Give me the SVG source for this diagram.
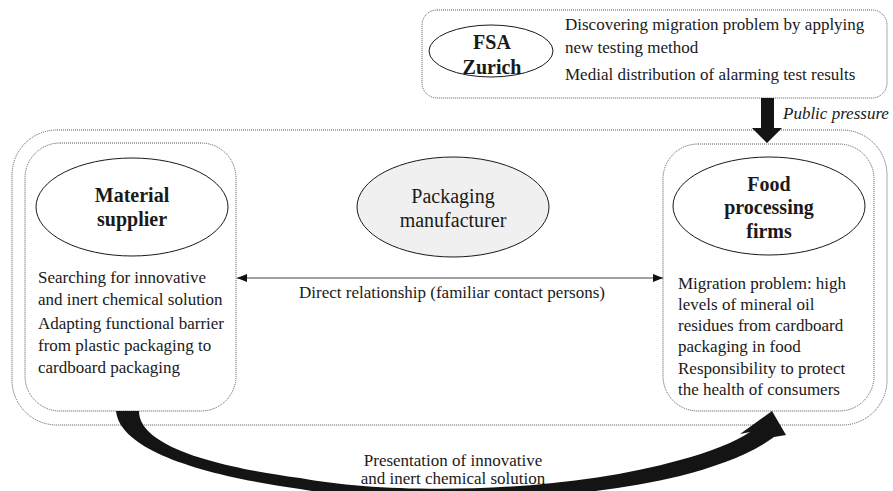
<svg xmlns="http://www.w3.org/2000/svg" width="893" height="491" viewBox="0 0 893 491">
  <defs>
    <style>
      text { font-family: "Liberation Serif", "Times New Roman", serif; fill: #1a1a1a; }
      .body { font-size: 17px; }
      .title { font-size: 20px; font-weight: bold; text-anchor: middle; }
      .plain { font-size: 20px; text-anchor: middle; }
      .mid { text-anchor: middle; }
      .frame { fill: none; stroke: #555; stroke-width: 1; stroke-dasharray: 1 1; }
      .actor { fill: #fff; stroke: #1a1a1a; stroke-width: 1; }
      .shaded { fill: #f0f0f0; }
      .link { stroke: #444; stroke-width: 1; fill: none; }
      .heavy { fill: #141414; stroke: none; }
    </style>
    <marker id="tri" viewBox="0 0 10 8" refX="10" refY="4" markerWidth="10" markerHeight="8" markerUnits="userSpaceOnUse" orient="auto-start-reverse">
      <path d="M0,0 L10,4 L0,8 Z" fill="#111"/>
    </marker>
  </defs>

  <rect width="893" height="491" fill="#fff"/>

  <!-- network boundary -->
  <rect id="network" class="frame" x="12" y="130" width="875" height="295" rx="45" ry="45"/>

  <!-- FSA Zurich -->
  <g id="fsa">
    <rect class="frame" x="422" y="10" width="465" height="88" rx="15" ry="15"/>
    <ellipse class="actor" cx="491" cy="51" rx="62" ry="26"/>
    <text class="title" x="492" y="49">FSA</text>
    <text class="title" x="492" y="74">Zurich</text>
    <text class="body" x="565" y="30">Discovering migration problem by applying</text>
    <text class="body" x="565" y="53">new testing method</text>
    <text class="body" x="565" y="80">Medial distribution of alarming test results</text>
  </g>

  <!-- Material supplier -->
  <g id="supplier">
    <rect class="frame" x="25" y="143" width="211" height="268" rx="35" ry="35"/>
    <ellipse class="actor" cx="132" cy="207" rx="96" ry="49"/>
    <text class="title" x="132" y="202">Material</text>
    <text class="title" x="132" y="226">supplier</text>
    <text class="body" x="38" y="283">Searching for innovative</text>
    <text class="body" x="38" y="305">and inert chemical solution</text>
    <text class="body" x="38" y="329">Adapting functional barrier</text>
    <text class="body" x="38" y="351">from plastic packaging to</text>
    <text class="body" x="38" y="373">cardboard packaging</text>
  </g>

  <!-- Packaging manufacturer -->
  <g id="manufacturer">
    <ellipse class="actor shaded" cx="453" cy="207" rx="96" ry="50"/>
    <text class="plain" x="453" y="203">Packaging</text>
    <text class="plain" x="453" y="227">manufacturer</text>
  </g>

  <!-- Food processing firms -->
  <g id="food">
    <rect class="frame" x="663" y="144" width="211" height="267" rx="35" ry="35"/>
    <ellipse class="actor" cx="769" cy="206" rx="96" ry="49"/>
    <text class="title" x="769" y="191">Food</text>
    <text class="title" x="769" y="214">processing</text>
    <text class="title" x="769" y="238">firms</text>
    <text class="body" x="678" y="289">Migration problem: high</text>
    <text class="body" x="678" y="310">levels of mineral oil</text>
    <text class="body" x="678" y="331">residues from cardboard</text>
    <text class="body" x="678" y="352">packaging in food</text>
    <text class="body" x="678" y="374">Responsibility to protect</text>
    <text class="body" x="678" y="395">the health of consumers</text>
  </g>

  <!-- connectors -->
  <g id="connectors">
    <!-- public pressure -->
    <path class="heavy" d="M761,98 L774,98 L774,128 L782,128 L767,143 L752,128 L761,128 Z"/>
    <text class="body" x="783" y="119" font-style="italic">Public pressure</text>

    <!-- direct relationship -->
    <line class="link" x1="237" y1="278" x2="663" y2="278" marker-start="url(#tri)" marker-end="url(#tri)"/>
    <text class="body mid" x="452" y="298">Direct relationship (familiar contact persons)</text>

    <!-- presentation of the solution -->
    <path class="heavy" d="M116,411 L139,411 C139,445 210,466 300,478 C390,495 560,494 680,460 C710,452 735,442 750,432 L740,434 L772,411 L786,435 L774,437 C750,455 715,467 680,476 C560,505 390,505 300,489 C200,475 120,450 116,411 Z"/>
    <text class="body mid" x="453" y="466">Presentation of innovative</text>
    <text class="body mid" x="453" y="484">and inert chemical solution</text>
  </g>
</svg>
